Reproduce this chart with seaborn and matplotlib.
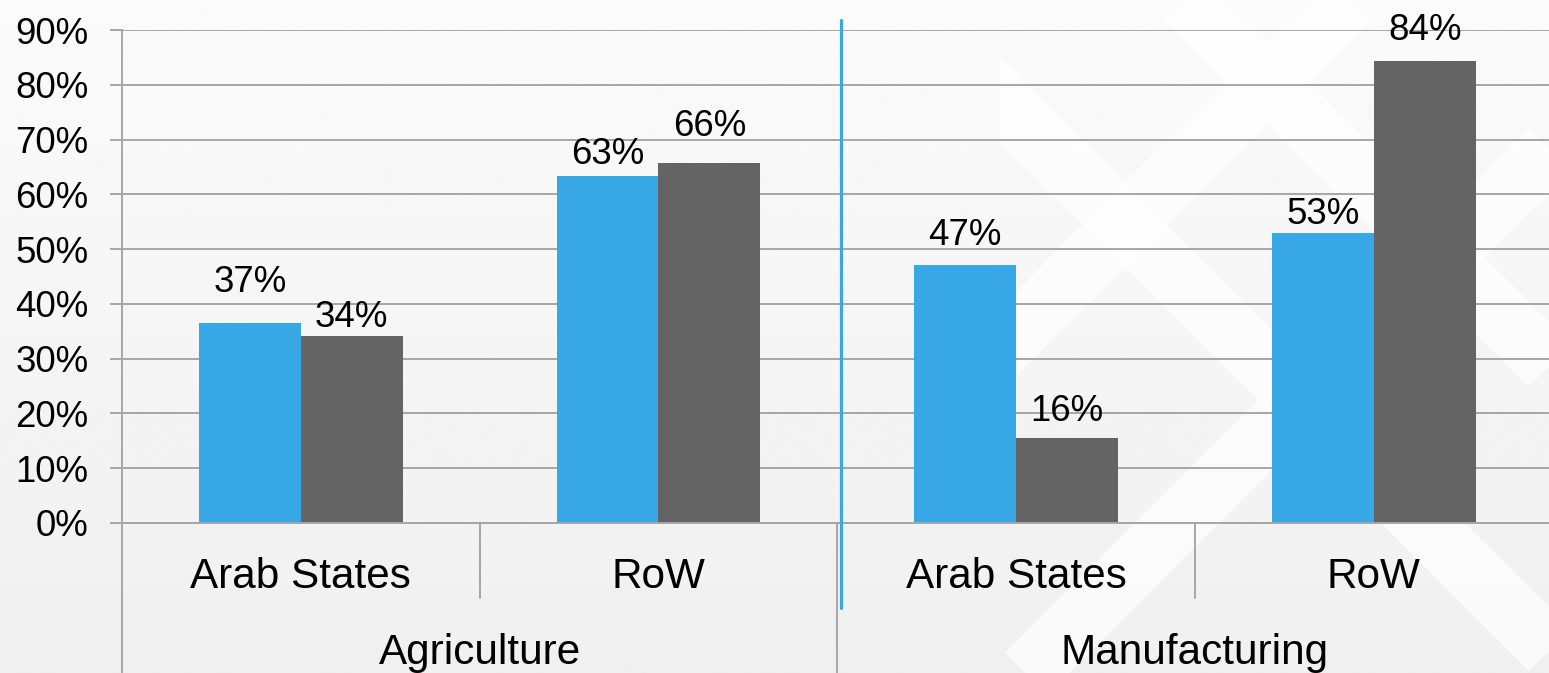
import numpy as np
import pandas as pd
import matplotlib
matplotlib.use("Agg")
import matplotlib.pyplot as plt
import matplotlib.transforms as mtransforms
from matplotlib.patches import Rectangle
import seaborn as sns

# ---------------- data ----------------
groups = ["Agriculture", "Manufacturing"]
subgroups = ["Arab States", "RoW"]
series_names = ["Series 1", "Series 2"]
series_blue = [36.6, 63.4, 47.1, 52.9]
series_grey = [34.2, 65.8, 15.6, 84.4]
y_ticks = [0, 10, 20, 30, 40, 50, 60, 70, 80, 90]

# label distance above bar top (px), per bar (style only)
gap_blue = [31, 12, 20, 9]
gap_grey = [9, 27, 17, 21]

BLUE = "#38A7E6"
GREY = "#646464"
LINE = "#A6A6A6"

sns.set_theme(style="white")
plt.rcParams["font.family"] = ["Liberation Sans", "DejaVu Sans"]

W, H = 1549, 673
fig = plt.figure(figsize=(W / 100, H / 100), dpi=100)

# ---------------- background ----------------
bg = fig.add_axes([0, 0, 1, 1], zorder=-10)
grad = np.linspace(0.982, 0.940, 256)[:, None] * np.ones((1, 2))
bg.imshow(grad, cmap="gray", vmin=0, vmax=1, extent=(0, W, H, 0), aspect="auto")
bg.set_xlim(0, W)
bg.set_ylim(H, 0)
bg.axis("off")
clip = Rectangle((1000, 0), W - 1000, H, transform=bg.transData)
band_lw = 60 * 72 / 100
for c in [1350, 1700]:
    xs = np.array([c - H - 10, c + 10])
    ln, = bg.plot(xs, c - xs, color="white", lw=band_lw, alpha=0.7, solid_capstyle="butt")
    ln.set_clip_path(clip)
for c in [1185, 900]:
    xs = np.array([c - 10, c + H + 10])
    ln, = bg.plot(xs, xs - c, color="white", lw=band_lw, alpha=0.7, solid_capstyle="butt")
    ln.set_clip_path(clip)

# ---------------- main axes ----------------
left, bottom_px, top_px = 122, 523, 30
ax = fig.add_axes([left / W, 1 - bottom_px / H, (W - left) / W, (bottom_px - top_px) / H])
ax.set_facecolor("none")

keys = [f"{g}|{s}" for g in groups for s in subgroups]
df = pd.DataFrame({
    "key": keys * 2,
    "value": series_blue + series_grey,
    "series": [series_names[0]] * 4 + [series_names[1]] * 4,
})
sns.barplot(data=df, x="key", y="value", hue="series", order=keys,
            hue_order=series_names, palette=[BLUE, GREY], saturation=1,
            width=0.57, linewidth=0, legend=False, errorbar=None, ax=ax)

ax.set_xlim(-0.5, 3.49)
ax.set_ylim(0, 90)
ax.set_yticks(y_ticks)
ax.set_yticklabels([f"{t}%" for t in y_ticks], fontsize=26.4, color="black")
ax.set_xticks([])
ax.set_xlabel("")
ax.set_ylabel("")
ax.tick_params(axis="y", length=12 * 0.72, width=1.4, color=LINE, pad=15.5, left=True)
ax.yaxis.grid(True, color=LINE, lw=1.4)
ax.set_axisbelow(True)
for side in ["top", "right"]:
    ax.spines[side].set_visible(False)
for side in ["left", "bottom"]:
    ax.spines[side].set_visible(True)
    ax.spines[side].set_color(LINE)
    ax.spines[side].set_linewidth(1.4)

# data labels
px2pt = 72 / 100
for cont, vals, gaps in zip(ax.containers, [series_blue, series_grey], [gap_blue, gap_grey]):
    for bar, v, g in zip(cont, vals, gaps):
        xc = bar.get_x() + bar.get_width() / 2
        ax.annotate(f"{v:.0f}%", (xc, bar.get_height()), xytext=(0, g * px2pt),
                    textcoords="offset points", ha="center", va="baseline",
                    fontsize=26.4, color="black")

# hierarchical category axis
tr = mtransforms.blended_transform_factory(ax.transData, ax.transAxes)
axh = bottom_px - top_px
def frac(py):
    return (bottom_px - py) / axh

for i, k in enumerate(keys):
    ax.text(i, frac(588), k.split("|")[1], transform=tr, ha="center", va="baseline",
            fontsize=30.4, color="black", clip_on=False)
for gi, g in enumerate(groups):
    ax.text(gi * 2 + 0.5, frac(664), g, transform=tr, ha="center", va="baseline",
            fontsize=30.4, color="black", clip_on=False)
for gi in range(len(groups)):
    ax.plot([gi * 2 + 0.5] * 2, [0, frac(598)], transform=tr, color=LINE, lw=1.4, clip_on=False)
for gi in range(len(groups) + 1):
    ax.plot([gi * 2 - 0.5] * 2, [0, frac(H + 5)], transform=tr, color=LINE, lw=1.4, clip_on=False)

# blue divider between sectors
ax.plot([1.51, 1.51], [frac(608), frac(20)], transform=tr, color=BLUE, lw=2.3,
        clip_on=False, zorder=5)

fig.savefig("out.png", dpi=100)
